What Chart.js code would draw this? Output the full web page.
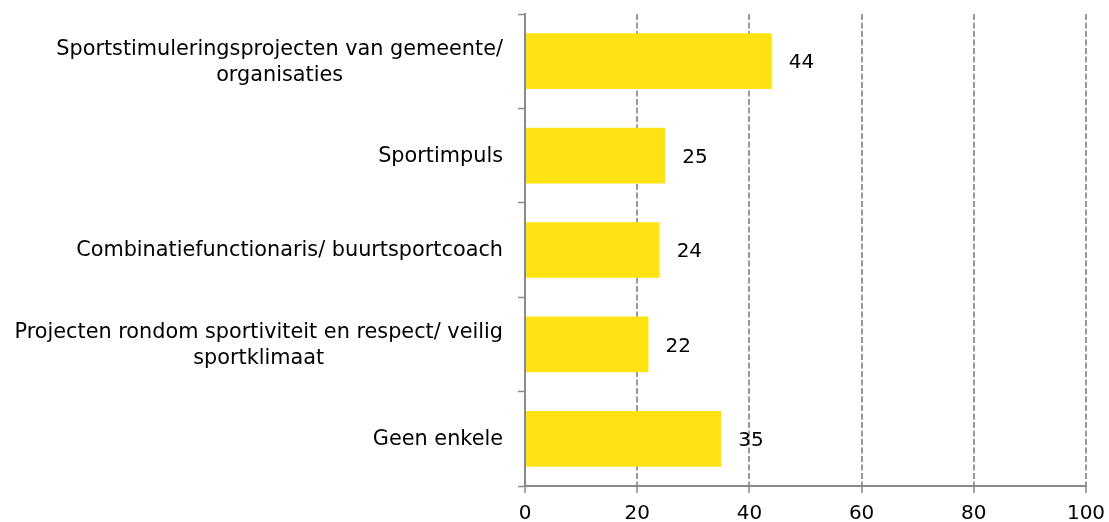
<!DOCTYPE html>
<html>
<head>
<meta charset="utf-8">
<script src="https://cdn.jsdelivr.net/npm/chart.js@4/dist/chart.umd.min.js"></script>
<style>
  html, body { margin: 0; padding: 0; background: #fff; }
  #wrap { width: 1109px; height: 522px; position: relative; }
</style>
</head>
<body>
<div id="wrap"><canvas id="chart"></canvas></div>
<script>
// Category labels (each entry is the list of lines for one label)
const categories = [
  ['Sportstimuleringsprojecten van gemeente/', 'organisaties'],
  ['Sportimpuls'],
  ['Combinatiefunctionaris/ buurtsportcoach'],
  ['Projecten rondom sportiviteit en respect/ veilig', 'sportklimaat'],
  ['Geen enkele']
];
// Percentage per category
const percentages = [44, 25, 24, 22, 35];
// Value axis
const axisMin = 0;
const axisMax = 100;
const axisStep = 20;

const FONT = '"DejaVu Sans", sans-serif';
const AXIS_GREY = '#8a8a8a';
const GRID_GREY = '#999999';

// Draws the category labels as right-aligned blocks whose lines are centred on each other
const blockLabels = {
  id: 'blockLabels',
  afterDraw(chart) {
    const scale = chart.scales.y;
    const ctx = chart.ctx;
    ctx.save();
    ctx.font = '20.8px ' + FONT;
    ctx.fillStyle = '#000';
    ctx.textAlign = 'center';
    ctx.textBaseline = 'middle';
    const right = scale.right - 22;
    const lineHeight = 26;
    categories.forEach((lines, i) => {
      const cy = scale.getPixelForTick(i) + 1;
      const w = Math.max(...lines.map(l => ctx.measureText(l).width));
      const cx = right - w / 2;
      lines.forEach((line, j) => {
        ctx.fillText(line, cx, cy + (j - (lines.length - 1) / 2) * lineHeight);
      });
    });
    ctx.restore();
  }
};

// Value labels to the right of each bar
const valueLabels = {
  id: 'valueLabels',
  afterDatasetsDraw(chart) {
    const ctx = chart.ctx;
    const meta = chart.getDatasetMeta(0);
    ctx.save();
    ctx.font = '20px ' + FONT;
    ctx.fillStyle = '#000';
    ctx.textAlign = 'left';
    ctx.textBaseline = 'middle';
    meta.data.forEach((bar, i) => {
      ctx.fillText(String(percentages[i]), bar.x + 17, bar.y + 2);
    });
    ctx.restore();
  }
};

new Chart(document.getElementById('chart'), {
  type: 'bar',
  data: {
    labels: categories,
    datasets: [{
      data: percentages,
      backgroundColor: '#FFE212',
      borderWidth: 0,
      barPercentage: 1,
      categoryPercentage: 0.59
    }]
  },
  options: {
    indexAxis: 'y',
    responsive: true,
    maintainAspectRatio: false,
    animation: false,
    devicePixelRatio: 1,
    layout: { padding: { top: 14, right: 23, left: 0, bottom: 0 } },
    plugins: {
      legend: { display: false },
      tooltip: { enabled: false }
    },
    scales: {
      x: {
        min: axisMin,
        max: axisMax,
        ticks: {
          stepSize: axisStep,
          color: '#000',
          font: { family: FONT, size: 20 },
          padding: 9,
          maxRotation: 0
        },
        grid: {
          color: GRID_GREY,
          lineWidth: 2,
          drawTicks: true,
          tickLength: 7,
          tickColor: AXIS_GREY,
          tickWidth: 1.5,
          tickBorderDash: []
        },
        border: { display: true, color: AXIS_GREY, width: 2, dash: [6, 2.5] },
        afterFit(scale) {
          scale.height = 36;
          scale.paddingLeft = 0;
          scale.paddingRight = 0;
        }
      },
      y: {
        ticks: {
          color: 'rgba(0,0,0,0)',
          font: { family: FONT, size: 20 }
        },
        grid: {
          offset: true,
          drawOnChartArea: false,
          drawTicks: true,
          tickLength: 7,
          tickColor: AXIS_GREY,
          tickWidth: 1.5
        },
        border: { display: true, color: AXIS_GREY, width: 2 },
        afterFit(scale) {
          scale.width = 525;
          scale.paddingTop = 0;
          scale.paddingBottom = 0;
        }
      }
    }
  },
  plugins: [blockLabels, valueLabels]
});
</script>
</body>
</html>
